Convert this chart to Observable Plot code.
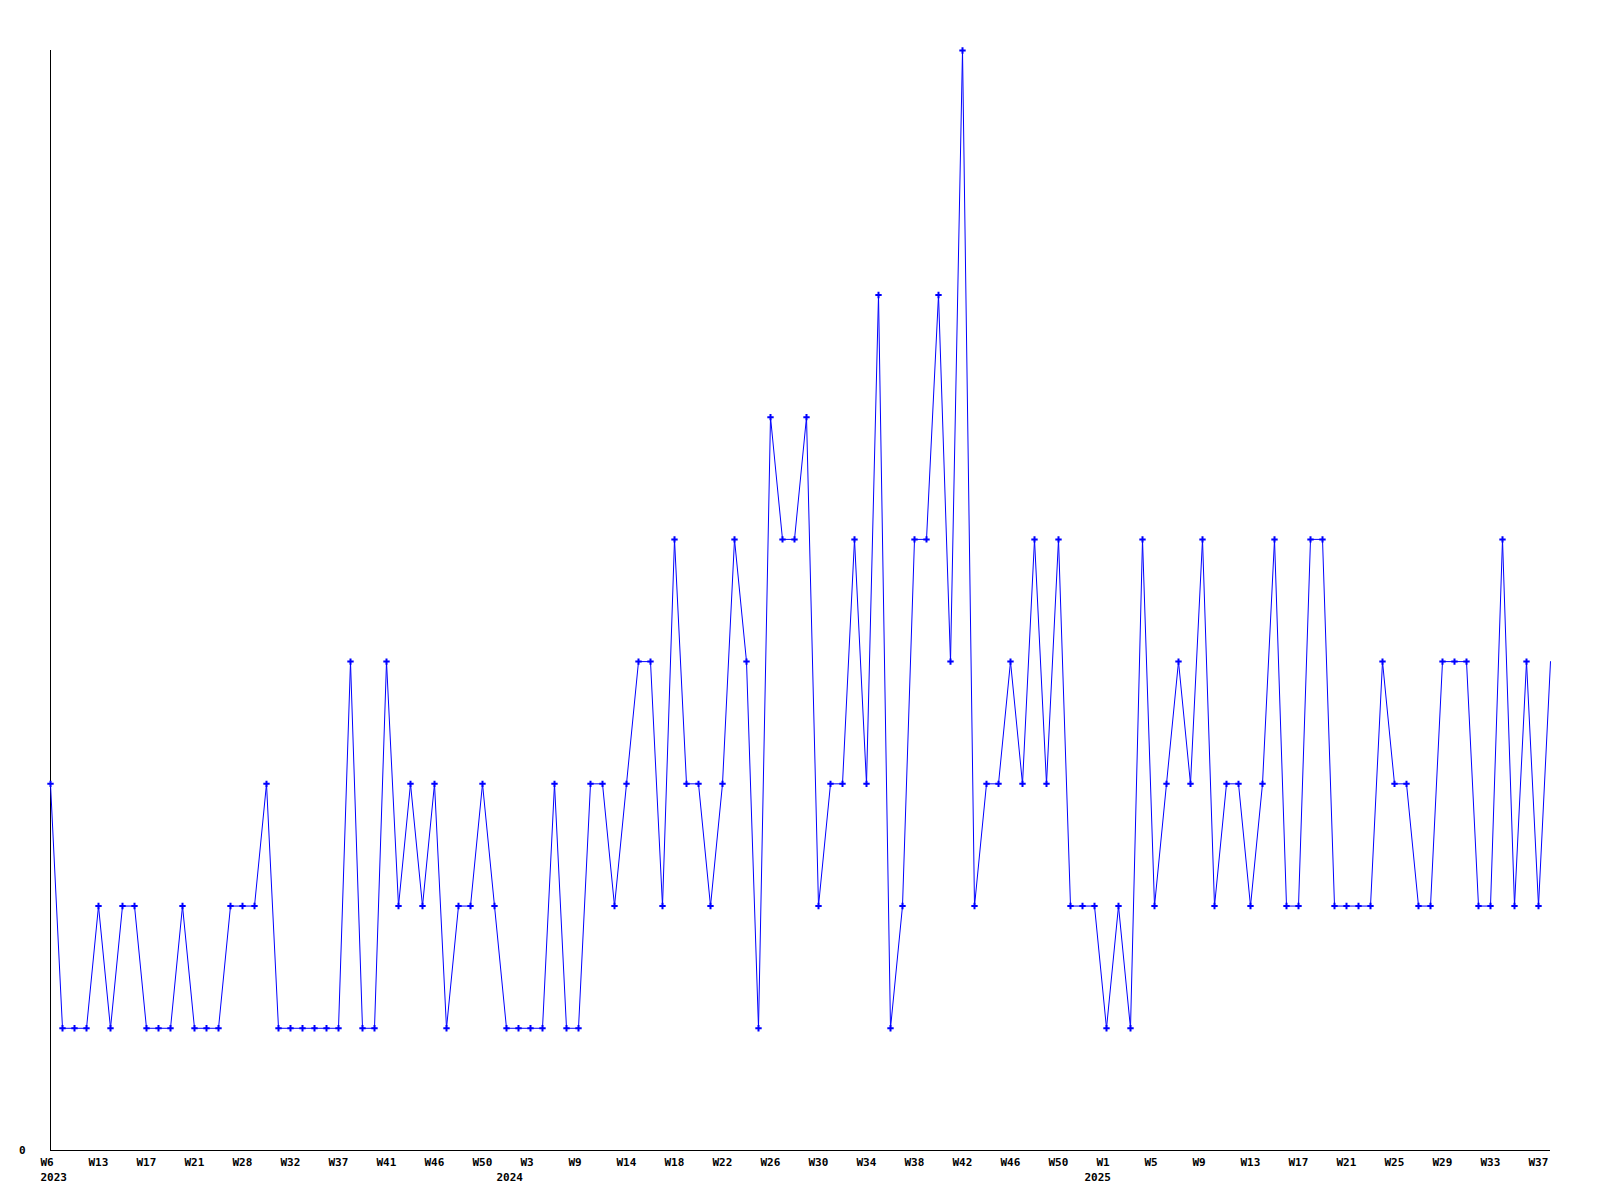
<!DOCTYPE html>
<html>
<head>
<meta charset="utf-8">
<script src="https://cdn.jsdelivr.net/npm/d3@7"></script>
<script src="https://cdn.jsdelivr.net/npm/@observablehq/plot@0.6"></script>
<style>
  html, body { margin: 0; padding: 0; background: #ffffff; }
  svg { display: block; }
</style>
</head>
<body>
<div id="chart"></div>
<script>
// Weekly counts, one per plotted week (ordinal sequence)
const counts = [
  3,1,1,1, 2,1,2,2, 1,1,1,2, 1,1,1,2, 2,2,3,1, 1,1,1,1,
  1,4,1,1, 4,2,3,2, 3,1,2,2, 3,2,1,1, 1,1,3,1, 1,3,3,2,
  3,4,4,2, 5,3,3,2, 3,5,4,1, 6,5,5,6, 2,3,3,5, 3,7,1,2,
  5,5,7,4, 9,2,3,3, 4,3,5,3, 5,2,2,2, 1,2,1,5, 2,3,4,3,
  5,2,3,3, 2,3,5,2, 2,5,5,2, 2,2,2,4, 3,3,2,2, 4,4,4,2,
  2,5,2,4, 2,4
];

// Week tick labels, shown every 4th point
const tickLabels = [
  "W6","W13","W17","W21","W28","W32","W37","W41","W46","W50",
  "W3","W9","W14","W18","W22","W26","W30","W34","W38","W42",
  "W46","W50","W1","W5","W9","W13","W17","W21","W25","W29",
  "W33","W37"
];
const tickStep = 4;

// Year labels and the point index where each year begins
const yearLabels = ["2023", "2024", "2025"];
const yearStart = [0, 38, 87];

const yLabels = ["0"];

const data = counts.map((v, i) => ({i, v}));
const ticks = tickLabels.map((label, k) => ({i: k * tickStep, label}));
const years = yearLabels.map((label, k) => ({i: yearStart[k], label}));
const n = counts.length - 1;
const yMax = d3.max(counts);

const chart = Plot.plot({
  width: 1600,
  height: 1200,
  marginLeft: 50,
  marginRight: 50,
  marginTop: 50,
  marginBottom: 50,
  x: {domain: [0, n], axis: null},
  y: {domain: [0, yMax], axis: null},
  style: {
    fontFamily: "'DejaVu Sans Mono', monospace",
    fontWeight: "bold",
    fontSize: "11px",
    color: "#000",
    background: "#fff"
  },
  marks: [
    Plot.ruleX([0], {y1: 0, y2: yMax, stroke: "#000", strokeWidth: 1}),
    Plot.ruleY([0], {x1: 0, x2: n, stroke: "#000", strokeWidth: 1}),
    Plot.line(data, {x: "i", y: "v", stroke: "#0000ff", strokeWidth: 1}),
    Plot.dot(data.slice(0, -1), {x: "i", y: "v", symbol: "plus", r: 2.2, stroke: "#0000ff", strokeWidth: 2}),
    Plot.text(ticks, {x: "i", y: 0, text: "label", textAnchor: "start", dx: -10, dy: 12, fill: "#000"}),
    Plot.text(years, {x: "i", y: 0, text: "label", textAnchor: "start", dx: -10, dy: 27, fill: "#000"}),
    Plot.text(yLabels, {x: 0, y: 0, text: d => d, textAnchor: "end", dx: -25, fill: "#000"})
  ]
});
document.getElementById("chart").appendChild(chart);
</script>
</body>
</html>
